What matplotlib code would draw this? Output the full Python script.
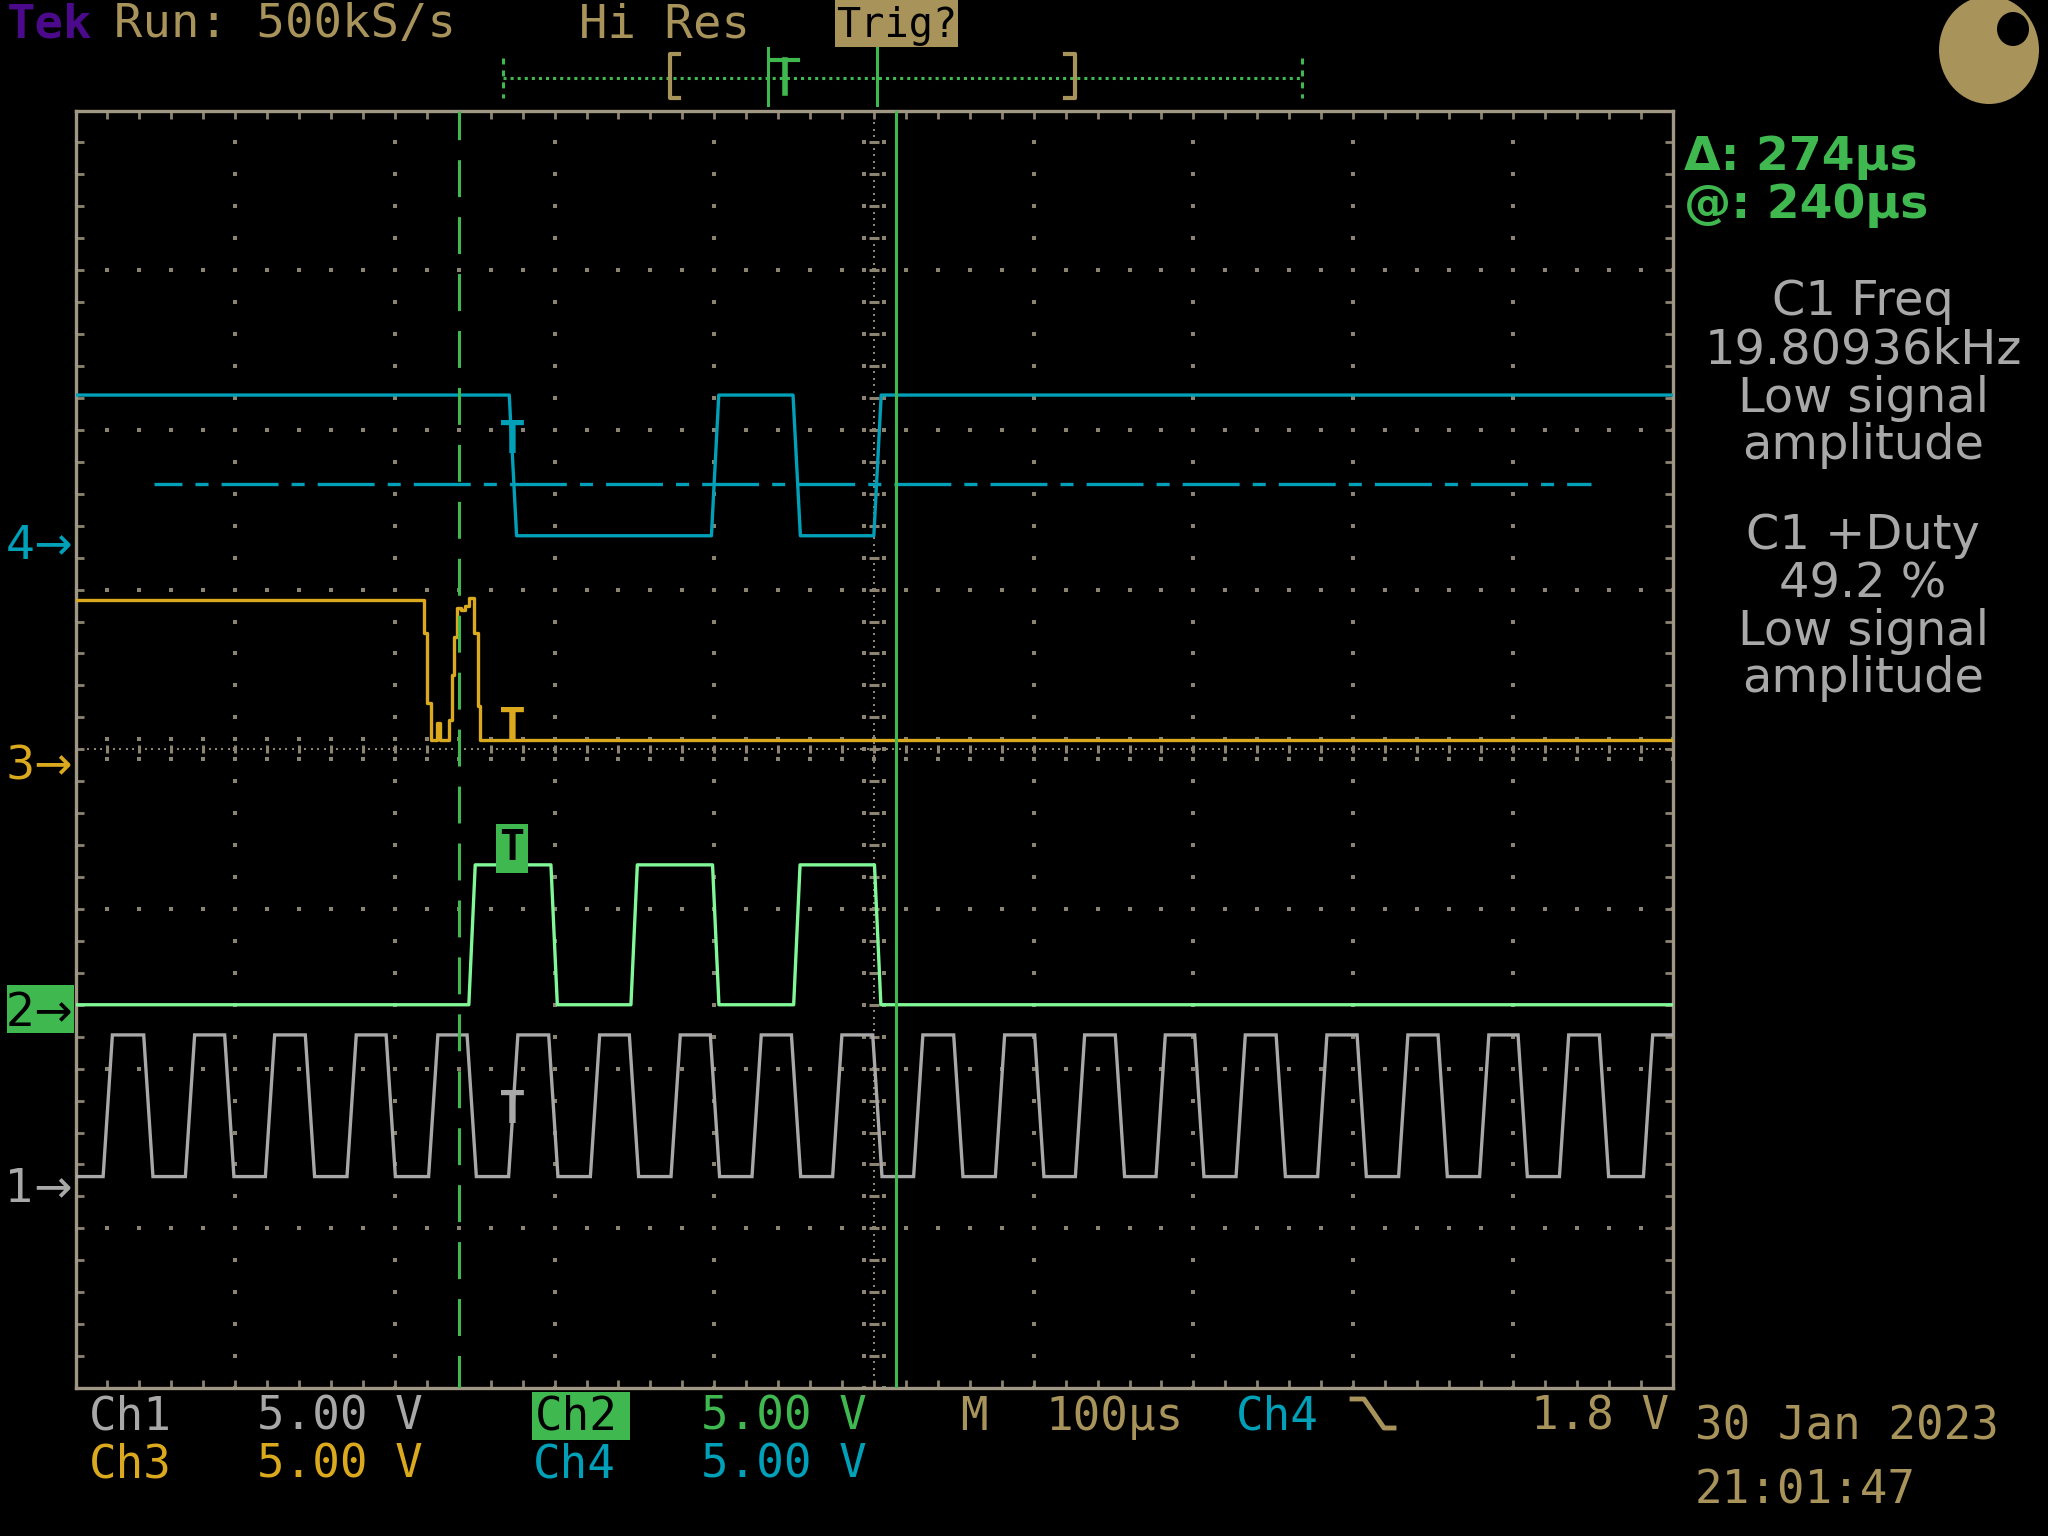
import numpy as np
import matplotlib
matplotlib.use('Agg')
import matplotlib.pyplot as plt
from matplotlib import transforms
from matplotlib.patches import Rectangle, Ellipse

plt.rcParams['lines.scale_dashes'] = False
plt.rcParams['font.family'] = ['DejaVu Sans']

# readings off the screen: time in us from left edge of graticule,
# level in divisions from the centre line (5 V/div, 100 us/div)
ch1_rise = [20.2, 71.7, 121.8, 172.9, 224.0, 274.1, 325.3, 375.8, 426.5, 477.0,
            527.7, 578.9, 629.0, 679.5, 729.6, 780.7, 831.4, 882.1, 932.1, 984.7]
ch1_fall = [45.6, 96.3, 146.8, 197.4, 248.1, 299.2, 349.7, 400.4, 451.2, 502.1,
            552.8, 603.5, 654.0, 703.7, 754.7, 805.4, 856.1, 906.2, 957.1]
ch1_low, ch1_high = -2.676, -1.789

ch2_rise = [248.3, 349.8, 451.7]
ch2_fall = [299.7, 400.9, 502.3]
ch2_low, ch2_high = -1.600, -0.724

ch3_t = [0.0, 218.0, 219.9, 222.3, 226.5, 228.3, 233.6, 235.5, 237.2, 239.1,
         241.5, 244.0, 246.5, 249.8, 251.8, 253.5, 1000.0]
ch3_v = [0.935, 0.726, 0.288, 0.058, 0.163, 0.058, 0.183, 0.465, 0.705, 0.883,
         0.870, 0.900, 0.945, 0.726, 0.268, 0.058, 0.058]

ch4_rise = [400.5, 502.2]
ch4_fall = [273.9, 451.6]
ch4_low, ch4_high = 1.337, 2.218
ch4_trig_level = 1.659
ch4_trig_span = [49.2, 949.0]

cursor_a = 240.0
cursor_b = 514.0
trig_t = 273.4

ch_names = ['1', '2', '3', '4']
ch_ground = [-2.733, -1.626, -0.085, 1.298]
t_marks = [-2.34, -0.62, 0.06, 1.856]   # where each channel's "T" sits

# colours
C1 = '#a8a8a8'
C2 = '#80f898'
C3 = '#daa91e'
C4 = '#00a0b8'
GRN = '#40b850'
TAN = '#a8945a'
GRID = '#8c8470'
BORDER = '#a09884'
TEK = '#4b0a8c'
MONO = 'DejaVu Sans Mono'


def edges_to_xy(rise, fall, low, high, start_high, ramp):
    ev = sorted([(t, high) for t in rise] + [(t, low) for t in fall])
    level = high if start_high else low
    xs, ys = [0.0], [level]
    for t, new in ev:
        xs += [t - ramp, t + ramp]
        ys += [level, new]
        level = new
    xs.append(1000.0)
    ys.append(level)
    return xs, ys


W, H = 2048, 1536
L, R, T, B = 75.5, 1672.5, 110.5, 1388.0
fig = plt.figure(figsize=(20.48, 15.36), dpi=100, facecolor='black')
ax = fig.add_axes([L / W, 1 - B / H, (R - L) / W, (B - T) / H])
ax.set_facecolor('black')
ax.set_xlim(0, 1000)
ax.set_ylim(-4, 4)
for s in ax.spines.values():
    s.set_color(BORDER)
    s.set_linewidth(2.4)
ax.set_xticks(np.arange(0, 1001, 20))
ax.set_yticks(np.arange(-4, 4.001, 0.2))
ax.tick_params(direction='in', length=6, width=2, color=GRID, top=True, right=True,
               labelbottom=False, labelleft=False)

# graticule dots
dot = dict(ls='none', marker='s', ms=2.2, mew=0, color=GRID, zorder=1)
ys_fine = np.arange(-4, 4.001, 0.2)
xs_fine = np.arange(0, 1001, 20)
for gx in [100, 200, 300, 400, 600, 700, 800, 900]:
    ax.plot(np.full(len(ys_fine), gx), ys_fine, **dot)
for gy in [-3, -2, -1, 1, 2, 3]:
    ax.plot(xs_fine, np.full(len(xs_fine), gy), **dot)
# centre cross
yc = np.arange(-4, 4.001, 0.04)
xc = np.arange(0, 1001, 4)
ax.plot(np.full(len(yc), 500), yc, ls='none', marker='s', ms=1.8, mew=0, color=GRID, zorder=1)
ax.plot(xc, np.zeros(len(xc)), ls='none', marker='s', ms=1.8, mew=0, color=GRID, zorder=1)
ax.plot(np.full(len(ys_fine), 500), ys_fine, ls='none', marker='_', ms=7, mew=2.2, color=GRID, zorder=1)
ax.plot(xs_fine, np.zeros(len(xs_fine)), ls='none', marker='|', ms=6, mew=2.2, color=GRID, zorder=1)
for off in (-6.3, 6.3):
    ax.plot(np.full(len(ys_fine), 500 + off), ys_fine, **dot)
for off in (-0.063, 0.063):
    ax.plot(xs_fine, np.full(len(xs_fine), off), **dot)

# traces
lw = 2.4
x1, y1 = edges_to_xy(ch1_rise, ch1_fall, ch1_low, ch1_high, False, 2.9)
ax.plot(x1, y1, color=C1, lw=lw, zorder=3, solid_joinstyle='miter')
x2, y2 = edges_to_xy(ch2_rise, ch2_fall, ch2_low, ch2_high, False, 2.0)
ax.plot(x2, y2, color=C2, lw=lw, zorder=3)
ax.step(ch3_t, ch3_v, where='post', color=C3, lw=lw, zorder=3)
x4, y4 = edges_to_xy(ch4_rise, ch4_fall, ch4_low, ch4_high, True, 2.3)
ax.plot(x4, y4, color=C4, lw=lw, zorder=3)
ax.plot(ch4_trig_span, [ch4_trig_level, ch4_trig_level], color=C4, lw=lw, zorder=3,
        linestyle=(20.9, (41, 9.4, 9.4, 9.4)))

# cursors
ax.axvline(cursor_a, color=GRN, lw=2.2, zorder=4, linestyle=(3.2, (26.6, 14.4)))
ax.axvline(cursor_b, color=GRN, lw=2.2, zorder=4)

# trigger "T" marks on each channel
t_cols = [C1, 'black', C3, C4]
for name, lvl, col in zip(ch_names, t_marks, t_cols):
    if name == '2':
        ax.text(trig_t, lvl, 'T', color='black', fontsize=30, fontweight='bold', family=MONO,
                ha='center', va='center', zorder=5,
                bbox=dict(boxstyle='square,pad=0.08', fc=GRN, ec='none'))
    else:
        ax.text(trig_t, lvl, 'T', color=col, fontsize=32, fontweight='bold', family=MONO,
                ha='center', va='baseline', zorder=5)

# ground markers on the left
ov = fig.add_axes([0, 0, 1, 1])
ov.set_xlim(0, W)
ov.set_ylim(H, 0)
ov.axis('off')
blend = transforms.blended_transform_factory(ov.transData, ax.transData)
g_cols = [C1, 'black', C3, C4]
for name, lvl, col in zip(ch_names, ch_ground, g_cols):
    if name == '2':
        ov.add_patch(Rectangle((7, lvl - 0.15), 67, 0.30, transform=blend, fc=GRN, ec='none'))
    ov.text(73, lvl - 0.105, name + '\u2192', color=col, fontsize=33, ha='right', va='baseline',
            transform=blend)

# top status line
ov.text(7, 37, 'Tek', color=TEK, fontsize=34, family=MONO, fontweight='bold', va='baseline')
ov.text(114, 37, 'Run: 500kS/s', color=TAN, fontsize=34, family=MONO, va='baseline')
ov.text(579, 37, 'Hi Res', color=TAN, fontsize=34, family=MONO, va='baseline')
ov.add_patch(Rectangle((835, 0), 123, 47, fc=TAN, ec='none'))
ov.text(896.5, 37, 'Trig?', color='black', fontsize=29, family=MONO, ha='center', va='baseline')

# record bar
ov.plot([503, 1302], [78.3, 78.3], color=GRN, lw=2.2, linestyle=(0, (2.2, 2.9)))
for xv in (503, 1302):
    ov.plot([xv, xv], [58, 98], color=GRN, lw=2.2, linestyle=(0, (4.3, 4.3)))
ov.plot([679, 670, 670, 679], [54, 54, 98, 98], color=TAN, lw=3)
ov.plot([1065, 1075, 1075, 1065], [54, 54, 98, 98], color=TAN, lw=3)
ov.plot([768, 768], [48, 105], color=GRN, lw=2.2)
ov.plot([772, 798], [60, 60], color=GRN, lw=3)
ov.plot([785, 785], [60, 93], color=GRN, lw=4)
ov.plot([877, 877], [48, 105], color=GRN, lw=2.2)

# Tek logo
ov.add_patch(Ellipse((1989, 50), 100, 108, fc=TAN, ec='none'))
ov.add_patch(Ellipse((2013, 29), 32, 34, fc='black', ec='none'))

# right readout
ov.text(1684, 170, '\u0394: 274\u00b5s', color=GRN, fontsize=34, fontweight='bold', va='baseline')
ov.text(1684, 218, '@: 240\u00b5s', color=GRN, fontsize=34, fontweight='bold', va='baseline')
meas = [('C1 Freq', 315), ('19.80936kHz', 364), ('Low signal', 412), ('amplitude', 459),
        ('C1 +Duty', 549), ('49.2 %', 597), ('Low signal', 645), ('amplitude', 692)]
for s, yb in meas:
    ov.text(1863, yb, s, color=C1, fontsize=34.5, ha='center', va='baseline')

# bottom settings
ov.add_patch(Rectangle((532, 1392), 98, 48, fc=GRN, ec='none'))
row1 = [('Ch1', 89, C1), ('5.00 V', 257, C1), ('Ch2', 535, 'black'), ('5.00 V', 701, GRN),
        ('M', 960, TAN), ('100\u00b5s', 1045, TAN), ('Ch4', 1236, C4), ('1.8 V', 1531, TAN)]
row2 = [('Ch3', 89, C3), ('5.00 V', 257, C3), ('Ch4', 533, C4), ('5.00 V', 701, C4)]
for s, xl, col in row1:
    ov.text(xl, 1430, s, color=col, fontsize=33, family=MONO, va='baseline')
for s, xl, col in row2:
    ov.text(xl, 1478, s, color=col, fontsize=33, family=MONO, va='baseline')
# falling-edge trigger slope symbol
ov.plot([1352, 1364, 1384, 1394], [1399, 1399, 1428, 1428], color=TAN, lw=3.5)
ov.text(1695, 1440, '30 Jan 2023', color=TAN, fontsize=33, family=MONO, va='baseline')
ov.text(1695, 1504, '21:01:47', color=TAN, fontsize=33, family=MONO, va='baseline')

fig.savefig('out.png', dpi=100, facecolor='black')
